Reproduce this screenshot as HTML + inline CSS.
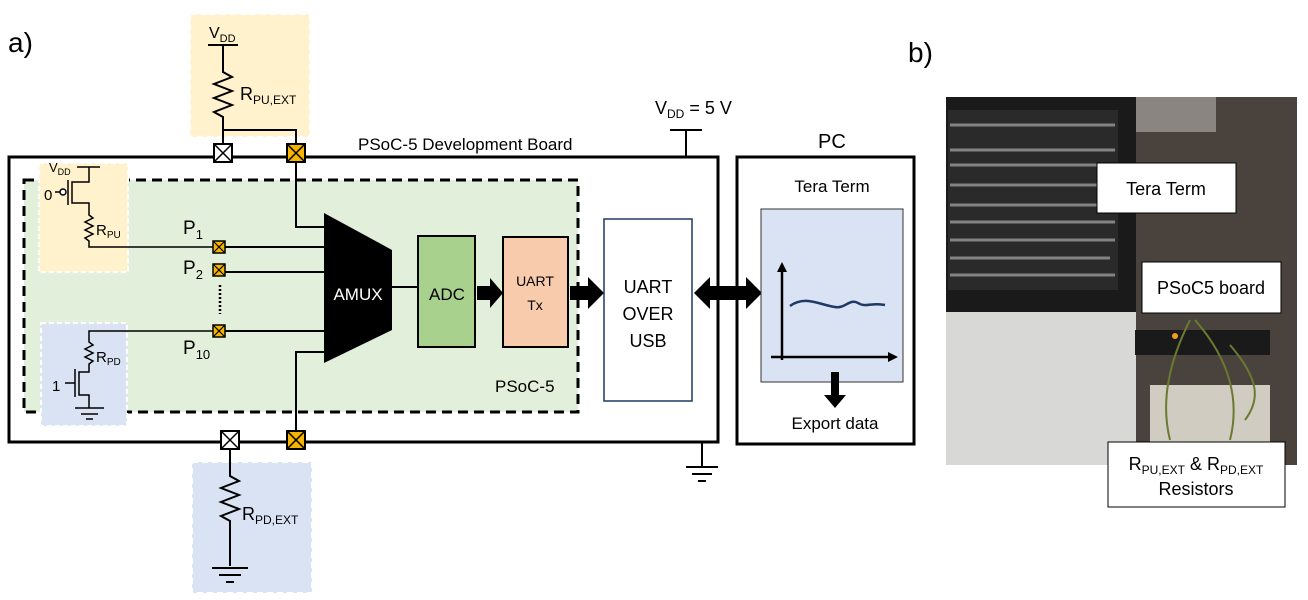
<!DOCTYPE html>
<html><head><meta charset="utf-8"><style>
body{margin:0;background:#fff;}
svg{display:block;font-family:"Liberation Sans",sans-serif;}
</style></head><body>
<svg width="1308" height="600" viewBox="0 0 1308 600" xmlns="http://www.w3.org/2000/svg">
<defs>
<g id="xw"><rect x="-9" y="-9" width="18" height="18" fill="#fff" stroke="#000" stroke-width="2"/><path d="M-9-9L9 9M9-9L-9 9" stroke="#000" stroke-width="1.5"/></g>
<g id="xo"><rect x="-9" y="-9" width="18" height="18" fill="#f4b400" stroke="#000" stroke-width="2"/><path d="M-9-9L9 9M9-9L-9 9" stroke="#000" stroke-width="1.5"/></g>
<g id="xs"><rect x="-6" y="-6" width="12" height="12" fill="#f4b400" stroke="#000" stroke-width="1.5"/><path d="M-6-6L6 6M6-6L-6 6" stroke="#000" stroke-width="1.2"/></g>
</defs>
<text x="8" y="52" font-size="28">a)</text>
<text x="908" y="62" font-size="28">b)</text>

<!-- top ext box -->
<rect x="190" y="14" width="120" height="123" fill="#fff2cc" stroke="#fff" stroke-width="2" stroke-dasharray="6,4"/>
<text x="209" y="38" font-size="16">V<tspan font-size="11" dy="4">DD</tspan></text>
<line x1="208" y1="45" x2="238" y2="45" stroke="#000" stroke-width="2"/>
<polyline points="223,45 223,72 232,77 214,84 232,91 214,98 232,105 214,112 223,117 223,153" fill="none" stroke="#000" stroke-width="2"/>
<polyline points="223,130 296,130 296,153" fill="none" stroke="#000" stroke-width="2"/>
<text x="240" y="100" font-size="18">R<tspan font-size="12" dy="4">PU,EXT</tspan></text>

<!-- board -->
<rect x="9" y="157" width="709" height="285" fill="none" stroke="#000" stroke-width="3"/>
<text x="358" y="150" font-size="17">PSoC-5 Development Board</text>
<text x="655" y="114" font-size="18">V<tspan font-size="12" dy="4">DD</tspan><tspan dy="-4"> = 5 V</tspan></text>
<line x1="670" y1="130" x2="702" y2="130" stroke="#000" stroke-width="2"/>
<line x1="686" y1="130" x2="686" y2="157" stroke="#000" stroke-width="2"/>

<!-- green psoc -->
<rect x="24" y="180" width="554" height="232" fill="#e2efda" stroke="#000" stroke-width="3" stroke-dasharray="10,6"/>
<text x="495" y="392" font-size="17">PSoC-5</text>
<rect x="39" y="163" width="89" height="109" fill="#fff2cc" stroke="#fff" stroke-width="2" stroke-dasharray="5,3"/>
<rect x="41" y="323" width="86" height="103" fill="#dae3f3" stroke="#fff" stroke-width="2" stroke-dasharray="5,3"/>
<text x="49" y="172" font-size="13">V<tspan font-size="9" dy="3">DD</tspan></text>
<line x1="77" y1="167" x2="100" y2="167" stroke="#000" stroke-width="1.5"/>
<polyline points="89,167 89,182 72,182 72,203 89,203 89,215 93,218 85,222 93,226 85,230 93,234 85,238 89,241 89,247 218,247" fill="none" stroke="#000" stroke-width="1.5"/>
<line x1="68" y1="180" x2="68" y2="205" stroke="#000" stroke-width="1.5"/>
<circle cx="63" cy="192" r="3" fill="#fff" stroke="#000" stroke-width="1.5"/>
<line x1="55" y1="192" x2="60" y2="192" stroke="#000" stroke-width="1.5"/>
<text x="44" y="200" font-size="15">0</text>
<text x="96" y="235" font-size="15">R<tspan font-size="10" dy="3">PU</tspan></text>
<polyline points="218,331 89,331 89,342 93,345 85,349 93,353 85,357 93,361 89,364 89,372 79,372 79,395 89,395 89,408" fill="none" stroke="#000" stroke-width="1.5"/>
<line x1="75" y1="369" x2="75" y2="397" stroke="#000" stroke-width="1.5"/>
<line x1="65" y1="383" x2="75" y2="383" stroke="#000" stroke-width="1.5"/>
<line x1="75" y1="408" x2="104" y2="408" stroke="#000" stroke-width="1.5"/>
<line x1="81" y1="414" x2="98" y2="414" stroke="#000" stroke-width="1.5"/>
<line x1="86" y1="419" x2="93" y2="419" stroke="#000" stroke-width="1.5"/>
<text x="52" y="391" font-size="15">1</text>
<text x="96" y="362" font-size="15">R<tspan font-size="10" dy="3">PD</tspan></text>

<text x="183" y="234" font-size="19">P<tspan font-size="13" dy="5">1</tspan></text>
<text x="183" y="274" font-size="19">P<tspan font-size="13" dy="5">2</tspan></text>
<text x="183" y="354" font-size="19">P<tspan font-size="13" dy="5">10</tspan></text>
<line x1="220" y1="285" x2="220" y2="314" stroke="#000" stroke-width="2.5" stroke-dasharray="2,2"/>
<line x1="218" y1="247" x2="325" y2="247" stroke="#000" stroke-width="2"/>
<line x1="218" y1="272" x2="325" y2="272" stroke="#000" stroke-width="2"/>
<line x1="218" y1="331" x2="325" y2="331" stroke="#000" stroke-width="2"/>
<polyline points="296,153 296,227 325,227" fill="none" stroke="#000" stroke-width="2"/>
<polyline points="325,352 296,352 296,440" fill="none" stroke="#000" stroke-width="2"/>
<use href="#xs" x="219" y="247"/><use href="#xs" x="219" y="270"/><use href="#xs" x="219" y="331"/>

<!-- AMUX -->
<polygon points="324,213 392,250 392,330 324,363" fill="#000"/>
<text x="358" y="300" font-size="17" fill="#fff" text-anchor="middle">AMUX</text>
<line x1="392" y1="287" x2="418" y2="287" stroke="#000" stroke-width="2"/>
<rect x="418" y="236" width="57" height="111" fill="#a9d18e" stroke="#000" stroke-width="2"/>
<text x="447" y="300" font-size="17" text-anchor="middle">ADC</text>
<polygon points="477,286 490,286 490,278 503,293 490,308 490,300 477,300" fill="#000"/>
<rect x="503" y="237" width="65" height="110" fill="#f8cbad" stroke="#000" stroke-width="2"/>
<text x="535" y="286" font-size="14" text-anchor="middle">UART</text>
<text x="535" y="310" font-size="14" text-anchor="middle">Tx</text>
<polygon points="570,286 588,286 588,277 604,293 588,309 588,300 570,300" fill="#000"/>
<rect x="604" y="219" width="88" height="182" fill="#fff" stroke="#1f3864" stroke-width="1.5"/>
<text x="648" y="293" font-size="18" text-anchor="middle">UART</text>
<text x="648" y="320" font-size="18" text-anchor="middle">OVER</text>
<text x="648" y="347" font-size="18" text-anchor="middle">USB</text>
<polygon points="694,293 710,277 710,286 746,286 746,277 762,293 746,309 746,300 710,300 710,309" fill="#000"/>

<!-- PC -->
<rect x="737" y="157" width="177" height="287" fill="none" stroke="#000" stroke-width="3"/>
<text x="818" y="148" font-size="20">PC</text>
<text x="832" y="192" font-size="17" text-anchor="middle">Tera Term</text>
<rect x="761" y="209" width="142" height="173" fill="#dae3f3" stroke="#333" stroke-width="1"/>
<line x1="782" y1="268" x2="782" y2="360" stroke="#000" stroke-width="2.5"/>
<polygon points="782,262 777,272 787,272" fill="#000"/>
<line x1="771" y1="357" x2="892" y2="357" stroke="#000" stroke-width="2.5"/>
<polygon points="898,357 888,352 888,362" fill="#000"/>
<path d="M790 306 C805 295,820 305,835 307 C845 309,850 298,858 303 C866 308,872 302,885 305" fill="none" stroke="#1f3864" stroke-width="2.5"/>
<polygon points="831,372 839,372 839,395 846,395 835,408 824,395 831,395" fill="#000"/>
<text x="835" y="429" font-size="17" text-anchor="middle">Export data</text>
<line x1="702" y1="442" x2="702" y2="467" stroke="#000" stroke-width="2"/>
<line x1="686" y1="467" x2="718" y2="467" stroke="#000" stroke-width="2"/>
<line x1="692" y1="474" x2="712" y2="474" stroke="#000" stroke-width="2"/>
<line x1="698" y1="481" x2="706" y2="481" stroke="#000" stroke-width="2"/>

<!-- bottom ext -->
<rect x="192" y="462" width="120" height="131" fill="#dae3f3" stroke="#fff" stroke-width="2" stroke-dasharray="6,4"/>
<polyline points="230,440 230,476 239,481 221,488 239,495 221,502 239,509 221,516 230,521 230,566" fill="none" stroke="#000" stroke-width="2"/>
<line x1="212" y1="568" x2="248" y2="568" stroke="#000" stroke-width="2"/>
<line x1="219" y1="575" x2="241" y2="575" stroke="#000" stroke-width="2"/>
<line x1="226" y1="582" x2="234" y2="582" stroke="#000" stroke-width="2"/>
<text x="242" y="520" font-size="18">R<tspan font-size="12" dy="4">PD,EXT</tspan></text>
<use href="#xw" x="223" y="153"/><use href="#xo" x="296" y="153"/>
<use href="#xw" x="230" y="440"/><use href="#xo" x="296" y="440"/>

<!-- photo -->
<rect x="946" y="97" width="351" height="368" fill="#4a433d"/>
<rect x="946" y="97" width="190" height="215" fill="#1a1a1a"/>
<rect x="948" y="110" width="170" height="180" fill="#2a2a2a"/>
<g stroke="#9a9a9a" stroke-width="3" opacity="0.8">
<line x1="950" y1="125" x2="1115" y2="125"/><line x1="950" y1="150" x2="1115" y2="150"/><line x1="950" y1="165" x2="1100" y2="165"/>
<line x1="950" y1="185" x2="1115" y2="185"/><line x1="950" y1="205" x2="1110" y2="205"/><line x1="950" y1="222" x2="1115" y2="222"/>
<line x1="950" y1="240" x2="1115" y2="240"/><line x1="950" y1="258" x2="1110" y2="258"/><line x1="950" y1="275" x2="1115" y2="275"/>
</g>
<rect x="946" y="312" width="190" height="153" fill="#d8d8d6"/>
<rect x="1136" y="97" width="80" height="35" fill="#8a8580"/>
<rect x="1135" y="330" width="135" height="25" fill="#1a1a1a"/>
<circle cx="1175" cy="336" r="3" fill="#f0a020"/>
<rect x="1150" y="385" width="120" height="60" fill="#d0ccc2"/>
<path d="M1190 320 C1170 360,1160 400,1170 440 M1195 320 C1230 360,1240 400,1230 440 M1230 345 C1260 380,1260 400,1245 420" fill="none" stroke="#6a7a30" stroke-width="2"/>
<rect x="1097" y="163" width="139" height="50" fill="#fff" stroke="#000" stroke-width="1"/>
<text x="1166" y="195" font-size="18" text-anchor="middle">Tera Term</text>
<rect x="1142" y="262" width="139" height="51" fill="#fff" stroke="#000" stroke-width="1"/>
<text x="1211" y="294" font-size="18" text-anchor="middle">PSoC5 board</text>
<rect x="1108" y="442" width="177" height="65" fill="#fff" stroke="#000" stroke-width="1"/>
<text x="1196" y="470" font-size="18" text-anchor="middle">R<tspan font-size="12" dy="4">PU,EXT</tspan><tspan dy="-4"> &amp; R</tspan><tspan font-size="12" dy="4">PD,EXT</tspan></text>
<text x="1196" y="495" font-size="18" text-anchor="middle">Resistors</text>
</svg>
</body></html>
